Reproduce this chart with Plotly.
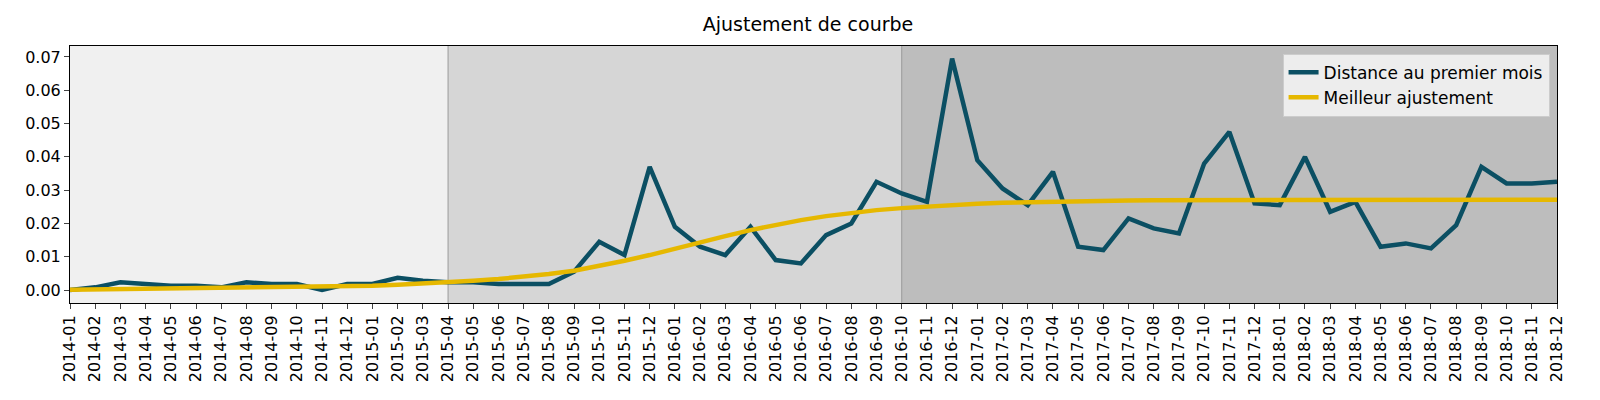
import plotly.graph_objects as go

months = [f"{y}-{m:02d}" for y in range(2014, 2019) for m in range(1, 13)]
distance = [0.0, 0.0008, 0.0023, 0.0018, 0.0013, 0.0013, 0.0008, 0.0023, 0.0018, 0.0018, 0.0, 0.0018,
            0.0018, 0.0037, 0.0028, 0.0023, 0.0023, 0.0018, 0.0018, 0.0018, 0.0055, 0.0145, 0.0105, 0.037,
            0.019, 0.013, 0.0105, 0.019, 0.009, 0.008, 0.0165, 0.020, 0.0325, 0.029, 0.0265, 0.0695,
            0.039, 0.0305, 0.0255, 0.0355, 0.013, 0.012, 0.0215, 0.0185, 0.017, 0.038, 0.0475, 0.026,
            0.0255, 0.040, 0.0235, 0.0265, 0.013, 0.014, 0.0125, 0.0195, 0.037, 0.032, 0.032, 0.0325]
fit = [0.0001, 0.0002, 0.0002, 0.0003, 0.0003, 0.0004, 0.0005, 0.0006, 0.0007, 0.0008, 0.0009, 0.0011,
       0.0013, 0.0016, 0.0019, 0.0023, 0.0028, 0.0033, 0.0040, 0.0048, 0.0058, 0.0072, 0.0088, 0.0105,
       0.0125, 0.0145, 0.0162, 0.0180, 0.0196, 0.0210, 0.0222, 0.0232, 0.0240, 0.0246, 0.0251, 0.0256,
       0.0259, 0.0262, 0.0264, 0.0266, 0.0267, 0.0268, 0.0269, 0.0270, 0.0270, 0.0270, 0.0271, 0.0271,
       0.0271, 0.0271, 0.0271, 0.0271, 0.0271, 0.0271, 0.0271, 0.0271, 0.0271, 0.0271, 0.0271, 0.0271]
phases = [("2014-01", "2015-04", "#f0f0f0"), ("2015-04", "2016-10", "#d6d6d6"), ("2016-10", "2018-12", "#bdbdbd")]
boundaries = ["2015-04", "2016-10"]

fig = go.Figure()
fig.add_trace(go.Scatter(x=months, y=distance, mode="lines", name="Distance au premier mois",
                         line=dict(color="#0b4f63", width=4.5)))
fig.add_trace(go.Scatter(x=months, y=fit, mode="lines", name="Meilleur ajustement",
                         line=dict(color="#e6b800", width=4.5)))
for a, b, c in phases:
    fig.add_shape(type="rect", xref="x", yref="paper", x0=a, x1=b, y0=0, y1=1,
                  fillcolor=c, line_width=0, layer="below")
for bd in boundaries:
    fig.add_shape(type="line", xref="x", yref="paper", x0=bd, x1=bd, y0=0, y1=1,
                  line=dict(color="#999999", width=1), layer="below")

fig.update_layout(
    width=1600, height=400, margin=dict(l=62, r=51, t=38, b=105, autoexpand=False),
    plot_bgcolor="white", paper_bgcolor="white",
    font=dict(family="DejaVu Sans", size=16, color="black"),
    title=dict(text="Ajustement de courbe", x=0.5, xanchor="center", y=0.975, yanchor="top", font=dict(size=19)),
    legend=dict(x=0.995, y=0.97, xanchor="right", yanchor="top", bgcolor="rgba(242,242,242,0.9)",
                bordercolor="#cccccc", borderwidth=1, font=dict(size=17)),
    showlegend=True,
)
fig.update_xaxes(type="category", range=[0, 59], tickangle=-90, showgrid=False, ticks="outside",
                 showline=True, linecolor="black", mirror=True, tickfont=dict(size=16), automargin=False)
fig.update_yaxes(range=[-0.0039, 0.0733], dtick=0.01, tickformat=".2f", showgrid=False, ticks="outside",
                 showline=True, linecolor="black", mirror=True, zeroline=False, tickfont=dict(size=16), automargin=False)
fig.write_html("out.html")
